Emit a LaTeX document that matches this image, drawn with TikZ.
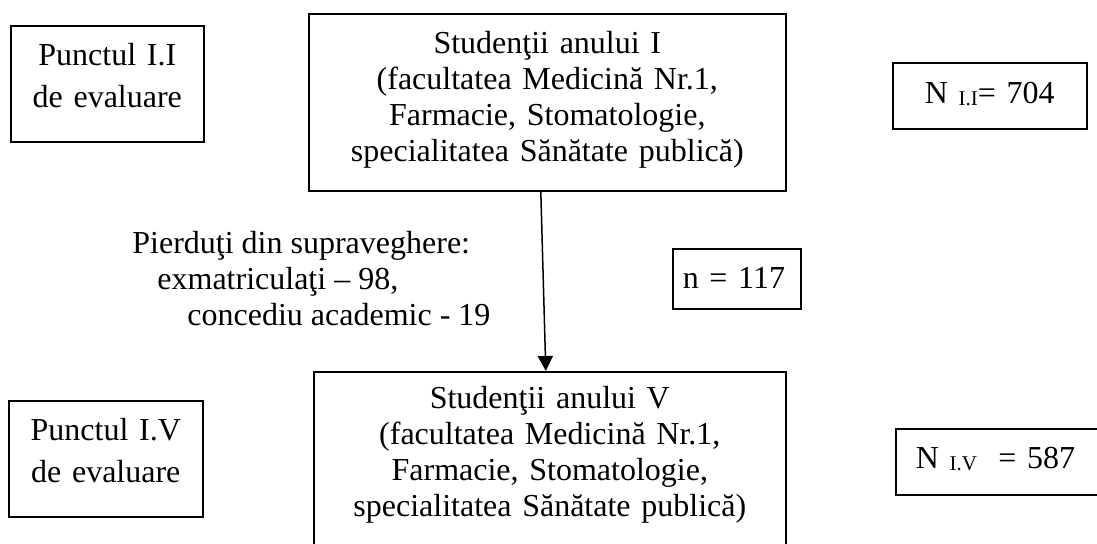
\documentclass[tikz,border=0pt]{standalone}
\usepackage{fontspec}
\setmainfont{Liberation Serif}
\usetikzlibrary{arrows.meta,positioning}

\tikzset{
  boks/.style={draw,line width=0.8pt,anchor=north west,inner sep=0pt,align=center},
  txtmid/.style={font=\fontsize{16}{18}\selectfont},
  txtpct/.style={font=\fontsize{16}{21}\selectfont},
  nbox/.style={boks,font=\fontsize{16}{18}\selectfont},
}
\newcommand{\indx}[1]{{\fontsize{10.5}{12}\selectfont\raisebox{-0.8pt}{#1}}}

\begin{document}
\begin{tikzpicture}[x=0.5pt,y=-0.5pt]
  \useasboundingbox (0,0) rectangle (1097,543);
  \clip (0,0) rectangle (1097,543);

  % puncte de evaluare
  \node[boks,txtpct,text width=96.5pt,text height=20pt,text depth=38pt] (pct1) at (10,25) {Punctul I.I\\de evaluare};
  \node[boks,txtpct,text width=97pt,text height=20pt,text depth=38pt] (pct5) at (8,400) {Punctul I.V\\de evaluare};

  % studenti
  \node[boks,txtmid,text width=238.5pt,text height=20pt,text depth=68.5pt] (an1) at (308,13)
    {Studenţii anului I\\(facultatea Medicină Nr.1,\\Farmacie, Stomatologie,\\specialitatea Sănătate publică)};
  \node[boks,txtmid,text width=236pt,text height=18.5pt,text depth=76pt] (an5) at (313,371)
    {Studenţii anului V\\(facultatea Medicină Nr.1,\\Farmacie, Stomatologie,\\specialitatea Sănătate publică)};

  % N
  \node[nbox,text width=97pt,text height=20.5pt,text depth=12.5pt] (nI) at (892,62) {N \indx{I.I}= 704};
  \node[nbox,align=left,inner xsep=10pt,text width=82.5pt,text height=20pt,text depth=13pt] (nV) at (895,428) {N \indx{I.V}\ \ = 587};
  \node[nbox,align=left,inner xsep=5pt,text width=54pt,text height=20pt,text depth=10pt] (npierd) at (672,248) {n = 117};

  \node[anchor=base west,align=left,inner sep=0pt,txtmid] (pierd) at (132,325)
    {Pierduţi din supraveghere:\\\hspace*{12.5pt}exmatriculaţi – 98,\\\hspace*{27.5pt}concediu academic - 19};

  \draw[-{Triangle[length=7.5pt,width=7.5pt]},line width=0.75pt] ([xshift=-3.25pt]an1.south) -- ([xshift=-2pt]an5.north);
\end{tikzpicture}
\end{document}
